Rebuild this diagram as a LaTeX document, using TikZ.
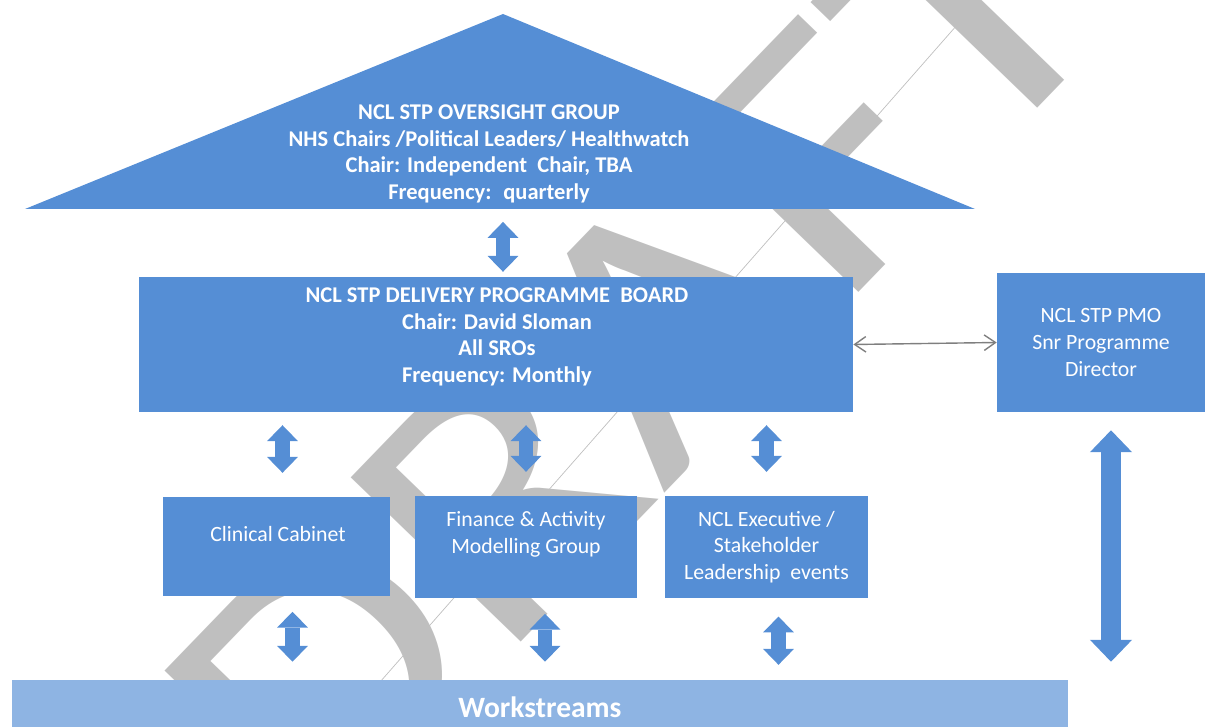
\documentclass[tikz,border=0pt]{standalone}
\usepackage{fontspec}
\setmainfont{Carlito}
\usetikzlibrary{arrows.meta,calc}

\definecolor{boxblue}{HTML}{558ED5}
\definecolor{wsblue}{HTML}{8EB4E3}
\definecolor{markgrey}{HTML}{BFBFBF}
\definecolor{linkgrey}{HTML}{7F7F7F}

\begin{document}
\begin{tikzpicture}[
    x=0.025cm, y=-0.025cm, % one unit per pixel, y going down
    blockarrow/.style={boxblue, line width=10.6pt, % fat double arrows
      {Triangle[width=22pt,length=11.3pt,line width=0pt]}-{Triangle[width=22pt,length=11.3pt,line width=0pt]}},
    bigarrow/.style={boxblue, line width=14.9pt,
      {Triangle[width=30pt,length=15.6pt,line width=0pt]}-{Triangle[width=30pt,length=15.6pt,line width=0pt]}},
    linkarrow/.style={linkgrey, line width=1pt, % thin grey link
      {Straight Barb[length=8pt,width=11pt]}-{Straight Barb[length=8pt,width=11pt]}}
  ]

  \tikzstyle{box}=[rectangle, fill=boxblue, inner sep=0pt, text=white, align=center,
    font=\fontsize{15.5}{19}\selectfont]
  \tikzstyle{boxtext}=[text=white, align=center, inner sep=0pt, font=\fontsize{15.5}{19}\selectfont]
  \tikzstyle{boldtext}=[boxtext, font=\fontsize{16}{19}\selectfont\bfseries]
  \tikzstyle{draftmark}=[anchor=base west, rotate=46, xscale=1.18, inner sep=0pt,
    text=markgrey, font=\fontsize{262}{262}\selectfont]

  \useasboundingbox (0,0) rectangle (1206,727);
  \clip (0,0) rectangle (1206,727);

  % watermark
  \node[draftmark] (draft) at (314,857) {DRAFT};
  \draw[markgrey, line width=0.5pt] (979,0) -- (373,690);

  % oversight group
  \fill[boxblue] (25,209) -- (503,14) -- (975,209) -- cycle;
  \coordinate (ogbase) at (503,209);
  \node[boldtext] (og) at (489,154) {NCL STP OVERSIGHT GROUP\\NHS Chairs /Political Leaders/ Healthwatch\\Chair: Independent~ Chair, TBA\\Frequency:~ quarterly};

  % board and pmo
  \node[box, minimum width=17.85cm, minimum height=3.375cm] (pb) at (496,344.5) {};
  \node[boldtext] (pbtext) at (497,337) {NCL STP DELIVERY PROGRAMME~ BOARD\\Chair: David Sloman\\All SROs\\Frequency: Monthly};
  \node[box, minimum width=5.2cm, minimum height=3.475cm] (pmo) at (1101,342.5) {NCL STP PMO\\Snr Programme\\Director};

  % groups
  \node[box, minimum width=5.675cm, minimum height=2.475cm] (cc) at (276.5,546.5) {};
  \node[boxtext] (cctext) at (278,534) {Clinical Cabinet};
  \node[box, minimum width=5.55cm, minimum height=2.55cm] (fam) at (526,547) {};
  \node[boxtext] (famtext) at (526,534) {Finance \& Activity\\Modelling Group};
  \node[box, minimum width=5.075cm, minimum height=2.55cm] (exe) at (766.5,547) {NCL Executive /\\Stakeholder\\Leadership~ events};

  \node[box, fill=wsblue, minimum width=26.4cm, minimum height=1.375cm,
    font=\fontsize{21}{25}\selectfont\bfseries] (ws) at (540,707.5) {Workstreams};

  \coordinate (ccup) at ($(cc.north)+(6,0)$);
  \coordinate (ccdown) at ($(cc.south)+(16,0)$);
  \coordinate (famdown) at ($(fam.south)+(19,0)$);
  \coordinate (exedown) at ($(exe.south)+(12,0)$);
  \coordinate (pmodown) at ($(pmo.south)+(10,0)$);

  \draw[blockarrow, shorten <=9.2pt, shorten >=3.5pt] (ogbase) -- (ogbase |- pb.north);
  \draw[blockarrow, shorten <=9.2pt, shorten >=17pt] (ccup |- pb.south) -- (ccup);
  \draw[blockarrow, shorten <=9.2pt, shorten >=17pt] (fam.north |- pb.south) -- (fam.north);
  \draw[blockarrow, shorten <=9.2pt, shorten >=17pt] (exe.north |- pb.south) -- (exe.north);
  \draw[blockarrow, shorten <=11pt, shorten >=12.8pt] (ccdown) -- (ccdown |- ws.north);
  \draw[blockarrow, shorten <=11pt, shorten >=12.8pt] (famdown) -- (famdown |- ws.north);
  \draw[blockarrow, shorten <=13pt, shorten >=10.6pt] (exedown) -- (exedown |- ws.north);
  \draw[bigarrow, shorten <=12.8pt, shorten >=12.8pt] (pmodown) -- (pmodown |- ws.north);
  \draw[linkarrow] (pb.east) -- (pmo.west);

\end{tikzpicture}
\end{document}
